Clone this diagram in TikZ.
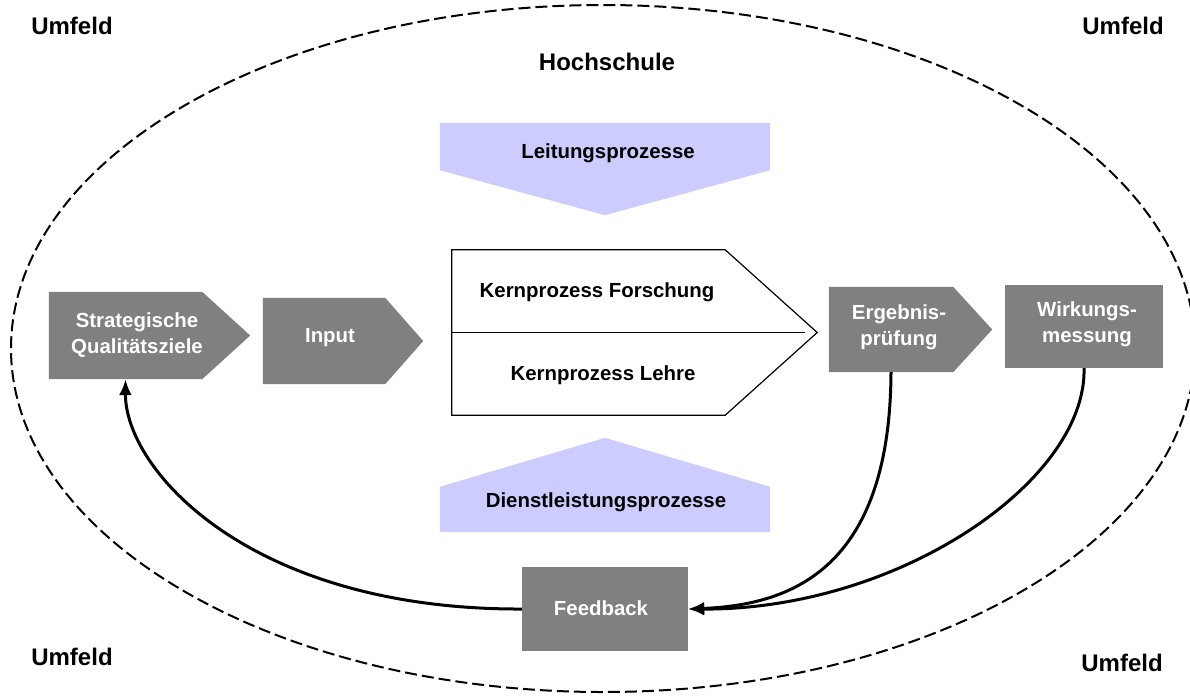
\documentclass[tikz,border=0pt]{standalone}
\usepackage{fontspec}
\setmainfont{Liberation Sans}
\usetikzlibrary{arrows.meta}
\definecolor{boxgray}{HTML}{808080}
\definecolor{lilac}{HTML}{CCCCFF}
\begin{document}
\begin{tikzpicture}[x=1pt,y=-1pt,
  anchorbox/.style={draw=none, fill=none, inner sep=0pt},
  whitetxt/.style={text=white, font=\fontsize{20.4}{26}\selectfont\bfseries, align=center, inner sep=0pt},
  blacktxt/.style={text=black, font=\fontsize{20.4}{26}\selectfont\bfseries, align=center, inner sep=0pt},
  bigtxt/.style={text=black, font=\fontsize{24}{28}\selectfont\bfseries, inner sep=0pt},
  feedarrow/.style={line width=3pt, -{Latex[length=16pt,width=13pt]}},
  boundary/.style={line width=2pt, dash pattern=on 12pt off 5pt}
]
\useasboundingbox (0,0) rectangle (1190,697);

% university boundary
\draw[boundary] (603,348.5) ellipse [x radius=592, y radius=343.5];

% surrounding labels
\node[bigtxt] (umfeldTL) at (72,26) {Umfeld};
\node[bigtxt] (umfeldTR) at (1123,26) {Umfeld};
\node[bigtxt] (umfeldBL) at (72,657) {Umfeld};
\node[bigtxt] (umfeldBR) at (1122,663) {Umfeld};
\node[bigtxt] (hs) at (607,62) {Hochschule};

% management processes (arrow pointing down)
\node[anchorbox, minimum width=330pt, minimum height=47pt] (lead) at (605,146.5) {};
\fill[lilac] (lead.north west) -- (lead.north east) -- (lead.south east)
  -- ([yshift=-45pt]lead.south) -- (lead.south west) -- cycle;
\node[blacktxt] (leadtxt) at (608,153) {Leitungsprozesse};

% service processes (arrow pointing up)
\node[anchorbox, minimum width=330pt, minimum height=45pt] (serv) at (605,509.5) {};
\fill[lilac] (serv.south west) -- (serv.south east) -- (serv.north east)
  -- ([yshift=49pt]serv.north) -- (serv.north west) -- cycle;
\node[blacktxt] (servtxt) at (606,502) {Dienstleistungsprozesse};

% strategic goals
\node[anchorbox, minimum width=153pt, minimum height=87pt] (strat) at (125.5,335.5) {};
\fill[boxgray] (strat.north west) -- (strat.north east) -- ([xshift=48pt]strat.east)
  -- (strat.south east) -- (strat.south west) -- cycle;
\node[whitetxt] (strattxt) at (137,335) {Strategische\\Qualitätsziele};

% input
\node[anchorbox, minimum width=122pt, minimum height=86pt] (inp) at (324,341) {};
\fill[boxgray] (inp.north west) -- (inp.north east) -- ([xshift=38pt]inp.east)
  -- (inp.south east) -- (inp.south west) -- cycle;
\node[whitetxt] (inptxt) at (330,338) {Input};

% core processes
\node[anchorbox, minimum width=273pt, minimum height=165pt] (kern) at (588.5,332.5) {};
\draw[line width=1.2pt, fill=white] (kern.north west) -- (kern.north east) -- ([xshift=92pt]kern.east)
  -- (kern.south east) -- (kern.south west) -- cycle;
\draw[line width=1.2pt] (kern.west) -- ([xshift=80pt]kern.east);
\node[blacktxt] (kernF) at (597,292) {Kernprozess Forschung};
\node[blacktxt] (kernL) at (603,375) {Kernprozess Lehre};

% result check
\node[anchorbox, minimum width=124pt, minimum height=85pt] (erg) at (891,329.5) {};
\fill[boxgray] (erg.north west) -- (erg.north east) -- ([xshift=39pt]erg.east)
  -- (erg.south east) -- (erg.south west) -- cycle;
\node[whitetxt] (ergtxt) at (899,327) {Ergebnis-\\prüfung};

% impact measurement
\node[anchorbox, fill=boxgray, minimum width=158pt, minimum height=83pt] (wirk) at (1084,326.5) {};
\node[whitetxt] (wirktxt) at (1087,324) {Wirkungs-\\messung};

% feedback
\node[anchorbox, fill=boxgray, minimum width=166pt, minimum height=84pt] (fb) at (605,609) {};
\node[whitetxt] (fbtxt) at (601,608) {Feedback};

% feedback loop
\draw[feedarrow] (erg.south) .. controls (890,570) and (790,605) .. (fb.east);
\draw[feedarrow] (wirk.south) .. controls (1087,480) and (900,610) .. (fb.east);
\draw[feedarrow] (fb.west) .. controls (250,610) and (125,470) .. (strat.south);
\end{tikzpicture}
\end{document}
